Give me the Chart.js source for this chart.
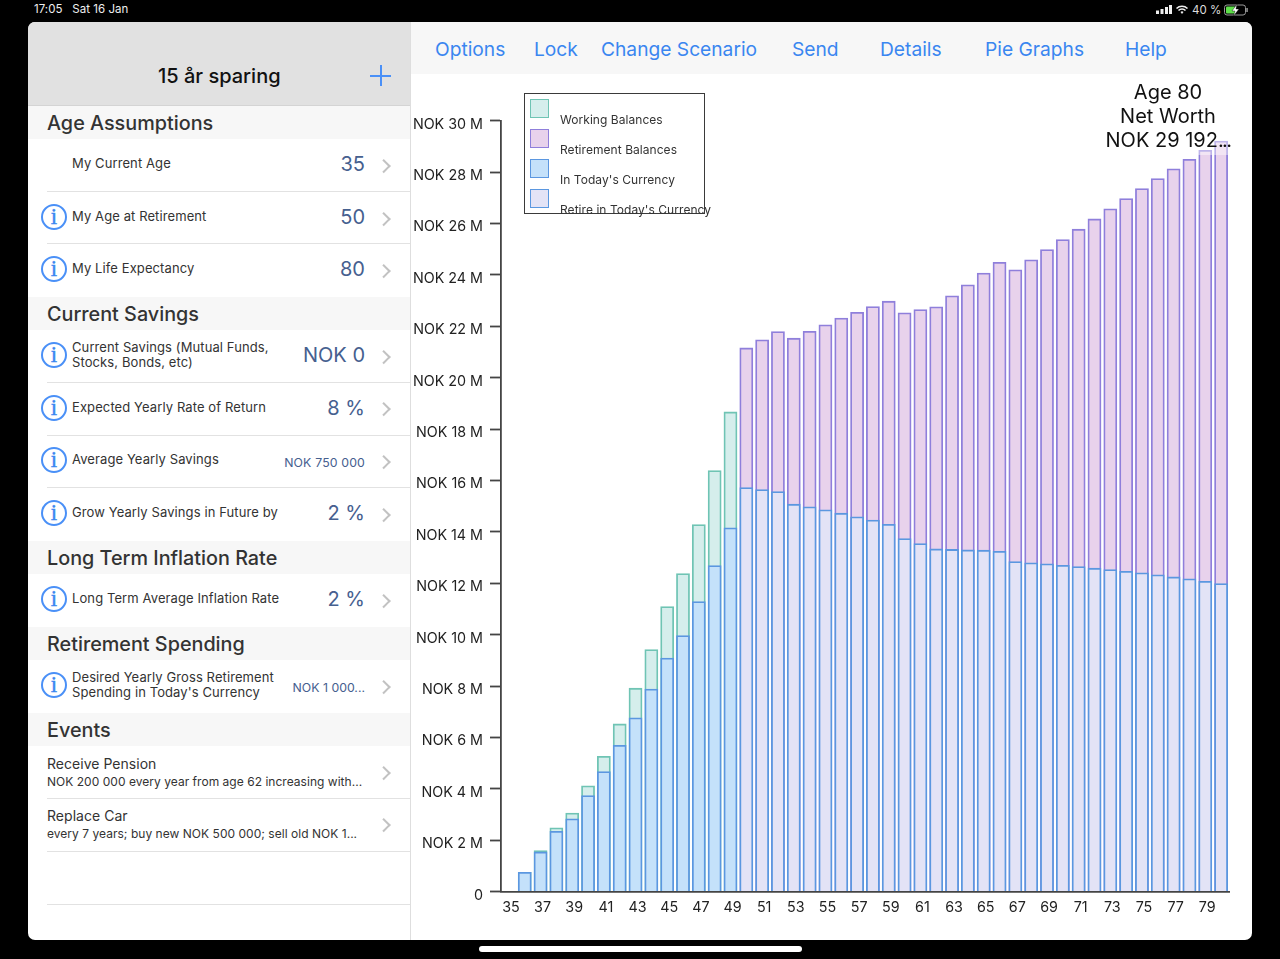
<!DOCTYPE html>
<html><head><meta charset="utf-8">
<script src="https://cdn.jsdelivr.net/npm/chart.js@4"></script>
<style>
*{box-sizing:border-box}
html,body{margin:0;padding:0;width:1280px;height:959px;background:#000;overflow:hidden;font-family:Inter,"Noto Sans",sans-serif;color:#222}
.abs{position:absolute;white-space:nowrap}
#panel{position:absolute;left:28px;top:22px;width:1224px;height:918px;background:#fff;border-radius:7px;overflow:hidden}
#wrap{position:absolute;left:411px;top:75px;width:841px;height:865px}
.nav{position:absolute;top:37px;font-size:19.2px;color:#3a86f0;white-space:nowrap;line-height:24px}
.sec{position:absolute;left:28px;width:382px;height:33px;background:#f7f7f7;font-size:19.8px;font-weight:500;color:#333;line-height:35px;padding-left:19px}
.line{position:absolute;height:1px;background:#e2e2e2}
.lab{position:absolute;left:72px;font-size:13px;color:#333;white-space:nowrap;line-height:15px;letter-spacing:.1px}
.ev{position:absolute;left:47px;color:#333;white-space:nowrap;line-height:15px;letter-spacing:.03px}
.val{position:absolute;right:915px;color:#46608f;white-space:nowrap}
.big{font-size:20px;line-height:25px;margin-top:.5px}
.sm{font-size:12.3px;line-height:15px}
.chev{position:absolute;left:378.5px;width:9.5px;height:9.5px;border-top:2px solid #c2c2c2;border-right:2px solid #c2c2c2;transform:rotate(45deg)}
.info{position:absolute;left:41px;width:26px;height:26px;border:2px solid #4a90f7;border-radius:50%;color:#3a86f0;font:23px/22px "Liberation Serif",serif;text-align:center;-webkit-text-stroke:.4px #3a86f0}
.leg{position:absolute;left:524px;top:93px;width:181px;height:121px;border:1.7px solid #3a3a3a;background:transparent}
.sw{position:absolute;left:530px;width:19px;height:19px;border-width:1.6px;border-style:solid}
.lt{position:absolute;left:560px;font-size:12px;color:#333;white-space:nowrap;line-height:15px;letter-spacing:.05px}
#lbl{position:absolute;left:1105px;top:80px;width:126px;height:75px;background:rgba(255,255,255,.42);text-align:center;font-size:20px;line-height:24px;color:#111;white-space:nowrap}
</style></head><body>
<div id="panel"></div>
<div class="abs" style="left:34px;top:2px;font-size:11.5px;color:#eee;line-height:14px;letter-spacing:.03px">17:05&nbsp;&nbsp; Sat 16 Jan</div>
<div class="abs" style="left:1192px;top:2.5px;font-size:11.5px;color:#ddd;line-height:14px">40 %</div>
<svg class="abs" style="left:1150px;top:0" width="100" height="20" viewBox="0 0 100 20">
<g fill="#eee"><rect x="6" y="10.5" width="3" height="3.5"/><rect x="10.5" y="9" width="3" height="5"/><rect x="15" y="7" width="3" height="7"/><rect x="19" y="5" width="3" height="9"/></g>
<path d="M26.5 8.5a8 8 0 0 1 11 0M28.5 10.5a5 5 0 0 1 7 0" fill="none" stroke="#eee" stroke-width="1.6"/><path d="M30.5 12l1.5 2 1.5-2a2 2 0 0 0-3 0z" fill="#eee"/>
<rect x="74.5" y="5" width="21" height="10" rx="2.5" fill="none" stroke="#999"/><rect x="76" y="6.5" width="9.5" height="7" rx="1" fill="#5fe04a"/><rect x="96.3" y="8" width="1.5" height="4" fill="#999"/>
<path d="M87 4l-5 7h3l-1.5 5 5.5-7h-3z" fill="#fff" stroke="#000" stroke-width=".4"/></svg>
<div class="abs" style="left:479px;top:946px;width:323px;height:6px;border-radius:3px;background:#fff"></div>

<div class="abs" style="left:28px;top:22px;width:382px;height:84px;background:#e1e1e1;border-radius:7px 0 0 0;border-bottom:1px solid #d4d4d4"></div>
<div class="abs" style="left:410px;top:22px;width:1px;height:918px;background:#dedede"></div>
<div class="abs" style="left:411px;top:22px;width:841px;height:52px;background:#f7f7f7;border-radius:0 7px 0 0"></div>
<div class="abs" style="left:158px;top:63px;font-size:20px;font-weight:500;color:#111;line-height:26px">15 år sparing</div>
<div class="abs" style="left:370px;top:75px;width:21px;height:1.6px;background:#4a90f7"></div>
<div class="abs" style="left:380px;top:65px;width:1.6px;height:21px;background:#4a90f7"></div>

<div class="nav" style="left:435px">Options</div><div class="nav" style="left:534px">Lock</div><div class="nav" style="left:601px">Change Scenario</div><div class="nav" style="left:792px">Send</div><div class="nav" style="left:880px">Details</div><div class="nav" style="left:985px">Pie Graphs</div><div class="nav" style="left:1125px">Help</div>

<div class="sec" style="top:106px">Age Assumptions</div>
<div class="sec" style="top:297px">Current Savings</div>
<div class="sec" style="top:541px">Long Term Inflation Rate</div>
<div class="sec" style="top:627px">Retirement Spending</div>
<div class="sec" style="top:713px">Events</div>

<div class="lab" style="top:156px">My Current Age</div><div class="val big" style="top:151px">35</div><div class="chev" style="top:161px"></div>
<div class="line" style="left:47px;width:363px;top:191px"></div>
<div class="info" style="top:204px">i</div><div class="lab" style="top:209px">My Age at Retirement</div><div class="val big" style="top:204px">50</div><div class="chev" style="top:214px"></div>
<div class="line" style="left:47px;width:363px;top:243px"></div>
<div class="info" style="top:256px">i</div><div class="lab" style="top:261px">My Life Expectancy</div><div class="val big" style="top:256px">80</div><div class="chev" style="top:266px"></div>

<div class="info" style="top:342px">i</div><div class="lab" style="top:340px">Current Savings (Mutual Funds,<br>Stocks, Bonds, etc)</div><div class="val big" style="top:342px">NOK 0</div><div class="chev" style="top:352px"></div>
<div class="line" style="left:47px;width:363px;top:382px"></div>
<div class="info" style="top:395px">i</div><div class="lab" style="top:400px">Expected Yearly Rate of Return</div><div class="val big" style="top:395px">8 %</div><div class="chev" style="top:404px"></div>
<div class="line" style="left:47px;width:363px;top:435px"></div>
<div class="info" style="top:447px">i</div><div class="lab" style="top:452px">Average Yearly Savings</div><div class="val sm" style="top:455px;letter-spacing:.15px">NOK 750 000</div><div class="chev" style="top:457px"></div>
<div class="line" style="left:47px;width:363px;top:487px"></div>
<div class="info" style="top:500px">i</div><div class="lab" style="top:505px">Grow Yearly Savings in Future by</div><div class="val big" style="top:500px">2 %</div><div class="chev" style="top:510px"></div>

<div class="info" style="top:586px">i</div><div class="lab" style="top:591px">Long Term Average Inflation Rate</div><div class="val big" style="top:586px">2 %</div><div class="chev" style="top:596px"></div>

<div class="info" style="top:672px">i</div><div class="lab" style="top:670px">Desired Yearly Gross Retirement<br>Spending in Today's Currency</div><div class="val sm" style="top:680px">NOK 1 000...</div><div class="chev" style="top:682px"></div>

<div class="ev" style="top:755px;font-size:14px;line-height:17px">Receive Pension</div><div class="ev" style="top:774px;font-size:12px">NOK 200 000 every year from age 62 increasing with...</div><div class="chev" style="top:768px"></div>
<div class="line" style="left:47px;width:363px;top:798px"></div>
<div class="ev" style="top:807px;font-size:14px;line-height:17px">Replace Car</div><div class="ev" style="top:826px;font-size:12px">every 7 years; buy new NOK 500 000; sell old NOK 1...</div><div class="chev" style="top:820px"></div>
<div class="line" style="left:47px;width:363px;top:851px"></div>
<div class="line" style="left:47px;width:363px;top:904px"></div>

<div id="wrap"><canvas id="c"></canvas></div>

<div class="leg"></div>
<div class="sw" style="top:99px;background:#d5eeec;border-color:#6fc4b4"></div><div class="lt" style="top:112px">Working Balances</div>
<div class="sw" style="top:129px;background:#e8d2ec;border-color:#8f7fdb"></div><div class="lt" style="top:142px">Retirement Balances</div>
<div class="sw" style="top:159px;background:#c4e1fa;border-color:#5b97e0"></div><div class="lt" style="top:172px">In Today's Currency</div>
<div class="sw" style="top:189px;background:#e3e3f6;border-color:#5b97e0"></div><div class="lt" style="top:202px">Retire in Today's Currency</div>
<div id="lbl">Age 80<br>Net Worth<br>NOK 29 192<span style="letter-spacing:-1.6px">...</span></div>

<script>
const ages = [35,36,37,38,39,40,41,42,43,44,45,46,47,48,49,50,51,52,53,54,55,56,57,58,59,60,61,62,63,64,65,66,67,68,69,70,71,72,73,74,75,76,77,78,79,80];
const workingBalances = [0,0.74,1.58,2.47,3.04,4.10,5.25,6.51,7.90,9.40,11.08,12.36,14.27,16.37,18.65,null,null,null,null,null,null,null,null,null,null,null,null,null,null,null,null,null,null,null,null,null,null,null,null,null,null,null,null,null,null,null];
const retirementBalances = [null,null,null,null,null,null,null,null,null,null,null,null,null,null,null,21.14,21.46,21.78,21.52,21.79,22.04,22.30,22.53,22.75,22.96,22.51,22.63,22.74,23.17,23.60,24.05,24.47,24.18,24.57,24.97,25.36,25.76,26.16,26.55,26.95,27.34,27.73,28.11,28.48,28.83,29.19];
const inTodaysCurrency = [0,0.74,1.53,2.33,2.82,3.72,4.66,5.68,6.75,7.87,9.07,9.95,11.27,12.67,14.14,null,null,null,null,null,null,null,null,null,null,null,null,null,null,null,null,null,null,null,null,null,null,null,null,null,null,null,null,null,null,null];
const retireInTodaysCurrency = [null,null,null,null,null,null,null,null,null,null,null,null,null,null,null,15.71,15.63,15.55,15.06,14.96,14.84,14.71,14.57,14.44,14.28,13.72,13.53,13.32,13.30,13.28,13.27,13.23,12.83,12.78,12.74,12.68,12.63,12.57,12.52,12.45,12.39,12.31,12.23,12.16,12.06,11.97];

const bar = (label,data,bg,bd,order)=>({label,data,backgroundColor:bg,borderColor:bd,borderWidth:1.8,borderSkipped:'start',inflateAmount:0.8,order,grouped:false,barPercentage:0.77,categoryPercentage:1});
new Chart(document.getElementById('c'),{
 type:'bar',
 data:{labels:ages,datasets:[
  bar('Working Balances',workingBalances,'#d5eeec','#6fc4b4',2),
  bar('Retirement Balances',retirementBalances,'#e8d2ec','#8f7fdb',2),
  bar("In Today's Currency",inTodaysCurrency,'#c4e1fa','#5b97e0',1),
  bar("Retire in Today's Currency",retireInTodaysCurrency,'#e3e3f6','#5b97e0',1)
 ]},
 options:{
  responsive:true,maintainAspectRatio:false,animation:false,
  layout:{padding:{top:45.7,right:23,left:0,bottom:0}},
  plugins:{legend:{display:false},tooltip:{enabled:false},title:{display:false}},
  scales:{
   x:{grid:{display:false,drawTicks:false},border:{display:true,color:'#444',width:1.8,z:1},
      afterFit:s=>{s.height=48.3},
      ticks:{autoSkip:false,maxRotation:0,minRotation:0,padding:7,labelOffset:2,color:'#222',font:{family:'Inter',size:14.3},
        callback(v,i){return i%2===0?this.getLabelForValue(v):''}}},
   y:{min:0,max:30,grid:{drawOnChartArea:false,drawTicks:true,tickLength:11,tickColor:'#444',tickWidth:1.8},border:{display:true,color:'#444',width:1.8,z:1},
      afterFit:s=>{s.width=90},
      ticks:{stepSize:2,padding:7,labelOffset:3.5,color:'#222',font:{family:'Inter',size:14.3},callback:v=>v===0?'0':'NOK '+v+' M'}}
  }
 }
});
</script>
</body></html>
